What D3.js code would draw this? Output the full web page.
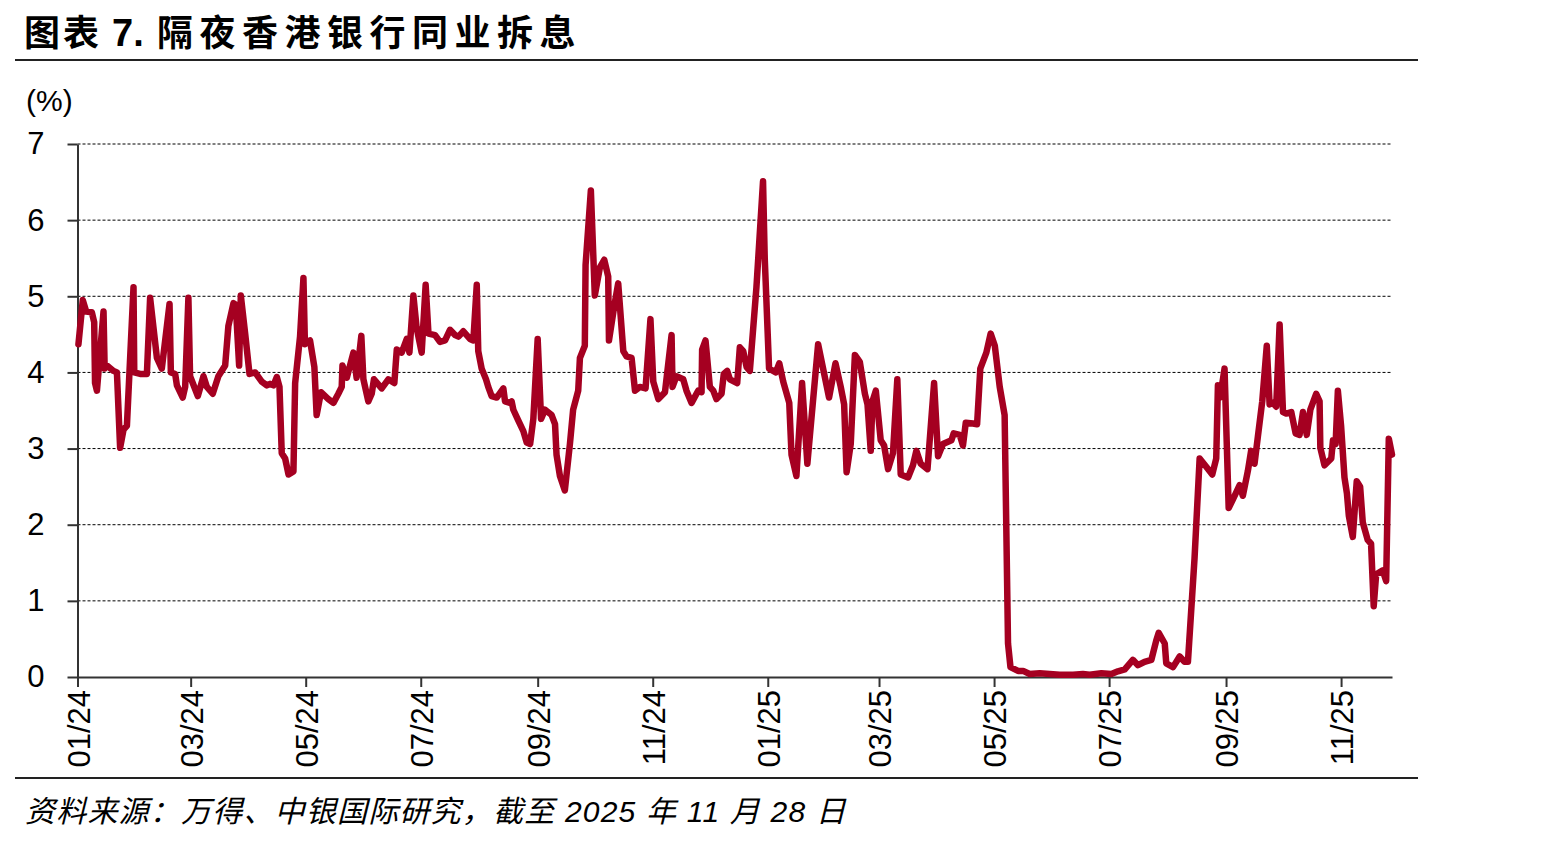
<!DOCTYPE html>
<html><head><meta charset="utf-8">
<script src="https://cdn.jsdelivr.net/npm/d3@7"></script>
<style>body{margin:0;background:#fff}</style>
</head><body>
<svg id="c" width="1542" height="842"></svg>
<script>
const titleParts = ["图表", "7.", "隔夜香港银行同业拆息"];
const unitText = "(%)";
const sourceText = "资料来源：万得、中银国际研究，截至 2025 年 11 月 28 日";
const baseDate = "2024-01-01";
const endDate = "2025-11-28";
// days since baseDate
const dayOffset = [
0.5, 2.8, 4.6, 7.6, 8.85, 9.3, 10.3, 13.8, 14.4, 15.6,
19.1, 20.9, 22.6, 24.4, 26.2, 29.7, 30.1, 33.2, 36.8, 38.5,
42.1, 44.7, 48.8, 49.5, 51.8, 52.7, 55.8, 57.1, 58.8, 59.7,
63.8, 66.8, 68.6, 71.7, 74.7, 78.3, 80.0, 82.7, 83.9, 85.7,
86.6, 88.9, 91.2, 94.2, 97.7, 100.4, 102.1, 103.9, 105.7, 107.1,
108.3, 110.1, 111.9, 114.5, 115.4, 118.0, 119.8, 120.6, 123.3, 125.6,
126.8, 129.1, 133.0, 135.7, 138.3, 140.1, 140.5, 142.8, 146.3, 148.0,
150.5, 151.6, 154.2, 156.0, 157.2, 161.3, 164.8, 168.0, 169.3, 171.9,
174.6, 176.0, 178.1, 179.8, 182.5, 184.6, 186.1, 189.6, 192.2, 194.9,
197.5, 200.2, 202.0, 204.6, 208.1, 209.9, 211.7, 212.5, 214.3, 216.6,
217.8, 219.6, 222.3, 225.8, 226.7, 229.3, 230.2, 231.1, 233.7, 236.4,
238.2, 240.0, 241.7, 244.0, 245.8, 247.9, 251.4, 253.2, 254.0, 255.8,
258.4, 261.1, 262.8, 265.5, 266.4, 269.0, 269.4, 272.2, 274.3, 277.0,
279.3, 281.4, 281.8, 284.6, 286.7, 289.4, 291.1, 293.8, 295.6, 298.2,
301.2, 303.8, 305.3, 308.0, 311.5, 315.0, 315.5, 317.6, 321.2, 322.9,
325.6, 329.1, 330.9, 331.2, 333.0, 335.3, 337.1, 338.8, 341.5, 342.7,
344.5, 345.9, 349.8, 351.2, 353.0, 354.8, 356.5, 360.0, 363.5, 364.4,
366.7, 370.3, 372.1, 374.2, 377.4, 378.6, 381.2, 384.2, 387.0, 392.7,
398.5, 401.9, 404.7, 406.5, 407.8, 410.0, 412.2, 414.8, 417.5, 418.9,
420.6, 421.5, 423.3, 425.9, 427.7, 429.8, 432.4, 434.7, 436.5, 440.4,
443.0, 444.8, 447.1, 450.7, 454.2, 456.3, 458.9, 463.4, 464.6, 467.8,
469.5, 471.0, 474.8, 477.0, 478.7, 481.9, 484.2, 486.4, 489.0, 491.6,
493.4, 494.7, 498.7, 501.4, 504.9, 510.2, 515.5, 520.8, 527.9, 533.1,
536.7, 542.9, 548.2, 551.7, 555.3, 559.6, 562.3, 565.8, 569.4, 572.0,
573.3, 576.5, 577.3, 580.9, 584.4, 587.0, 588.8, 592.3, 595.0, 598.5,
601.7, 603.8, 604.7, 605.9, 608.2, 610.4, 612.6, 616.2, 617.9, 620.6,
622.3, 624.1, 625.9, 628.2, 630.6, 632.1, 633.8, 635.6, 637.4, 639.2,
640.9, 643.6, 645.9, 648.0, 649.8, 651.8, 653.7, 656.8, 658.6, 659.0,
661.2, 664.8, 665.7, 667.1, 668.3, 670.0, 671.8, 673.1, 674.1, 676.2,
678.3, 680.1, 681.5, 684.1, 685.9, 687.3, 688.6, 692.1, 693.9, 695.3,
697.0
];
// overnight HIBOR, %
const rate = [
4.37, 4.95, 4.80, 4.79, 4.66, 3.86, 3.76, 4.80, 4.05, 4.09,
4.02, 4.00, 3.01, 3.25, 3.30, 5.12, 4.00, 3.98, 3.98, 4.98,
4.19, 4.05, 4.90, 4.00, 3.98, 3.83, 3.67, 3.81, 4.98, 3.95,
3.69, 3.95, 3.81, 3.72, 3.95, 4.09, 4.61, 4.91, 4.89, 4.09,
5.01, 4.51, 3.98, 4.00, 3.88, 3.83, 3.85, 3.83, 3.94, 3.81,
2.94, 2.87, 2.66, 2.70, 3.86, 4.47, 5.24, 4.37, 4.42, 4.07,
3.44, 3.74, 3.65, 3.60, 3.72, 3.81, 4.09, 3.93, 4.26, 3.93,
4.48, 3.91, 3.62, 3.72, 3.91, 3.79, 3.91, 3.86, 4.30, 4.26,
4.44, 4.26, 5.01, 4.59, 4.26, 5.15, 4.51, 4.49, 4.40, 4.42,
4.56, 4.49, 4.47, 4.54, 4.44, 4.42, 5.15, 4.28, 4.05, 3.91,
3.81, 3.69, 3.67, 3.79, 3.62, 3.60, 3.62, 3.51, 3.37, 3.23,
3.08, 3.06, 3.39, 4.44, 3.39, 3.51, 3.44, 3.32, 2.92, 2.64,
2.45, 3.06, 3.51, 3.76, 4.19, 4.35, 5.41, 6.39, 5.01, 5.38,
5.48, 5.26, 4.42, 4.87, 5.17, 4.28, 4.21, 4.19, 3.76, 3.81,
3.79, 4.70, 3.88, 3.65, 3.74, 4.49, 3.81, 3.95, 3.91, 3.76,
3.60, 3.76, 3.74, 4.30, 4.42, 3.81, 3.76, 3.65, 3.72, 3.98,
4.02, 3.91, 3.86, 4.33, 4.28, 4.07, 4.02, 5.12, 6.51, 5.50,
4.05, 4.00, 4.12, 3.88, 3.60, 2.92, 2.64, 3.86, 2.80, 4.37,
3.67, 4.12, 3.81, 3.58, 2.69, 3.06, 4.23, 4.14, 3.72, 3.58,
2.97, 3.62, 3.76, 3.11, 3.04, 2.73, 2.94, 3.91, 2.66, 2.62,
2.78, 2.97, 2.80, 2.73, 3.86, 2.90, 3.06, 3.11, 3.20, 3.18,
3.04, 3.34, 3.33, 3.32, 4.05, 4.26, 4.51, 4.35, 3.81, 3.44,
0.44, 0.13, 0.08, 0.08, 0.04, 0.05, 0.04, 0.03, 0.03, 0.04,
0.03, 0.05, 0.04, 0.075, 0.10, 0.225, 0.155, 0.20, 0.225, 0.48,
0.58, 0.44, 0.18, 0.13, 0.27, 0.20, 0.20, 1.56, 2.87, 2.76,
2.66, 2.87, 3.83, 3.67, 4.05, 2.22, 2.33, 2.52, 2.38, 2.71,
2.97, 2.80, 3.16, 3.62, 4.35, 3.58, 3.60, 3.55, 4.63, 3.48,
3.46, 3.48, 3.20, 3.18, 3.48, 3.18, 3.51, 3.72, 3.62, 3.01,
2.78, 2.87, 3.11, 3.06, 3.76, 3.30, 2.62, 2.41, 2.12, 1.84,
2.57, 2.50, 2.03, 1.80, 1.75, 0.93, 1.35, 1.40, 1.26, 3.13,
2.92
];
const yTicks = [0, 1, 2, 3, 4, 5, 6, 7];
const xTickDates = ["2024-01-01","2024-03-01","2024-05-01","2024-07-01","2024-09-01","2024-11-01",
                    "2025-01-01","2025-03-01","2025-05-01","2025-07-01","2025-09-01","2025-11-01"];
const xTickLabels = ["01/24","03/24","05/24","07/24","09/24","11/24","01/25","03/25","05/25","07/25","09/25","11/25"];

const parse = d3.utcParse("%Y-%m-%d");
const base = parse(baseDate);
const DAY = 86400000;
const n = Math.min(dayOffset.length, rate.length);
const data = d3.range(n).map(i => ({date: new Date(base.getTime() + dayOffset[i] * DAY), v: rate[i]}));

const svg = d3.select("#c");
const L = 77.5, R = 1392, T = 144, B = 677;
const x = d3.scaleUtc().domain([base, parse(endDate)]).range([L, R]);
const y = d3.scaleLinear().domain([0, 7]).range([B, T]);
const FONT = "'Liberation Sans', Arial, 'Noto Sans CJK SC', sans-serif";

// title
const tt = svg.append("text").attr("y", 46)
  .attr("font-family", FONT).attr("font-weight", "bold").attr("font-size", 36).attr("fill", "#000");
tt.append("tspan").attr("x", 24).attr("letter-spacing", "3px").text(titleParts[0]);
tt.append("tspan").attr("x", 112).attr("font-size", 38).text(titleParts[1]);
tt.append("tspan").attr("x", 157).attr("letter-spacing", "6.5px").text(titleParts[2]);
svg.append("line").attr("x1", 15).attr("x2", 1418).attr("y1", 60).attr("y2", 60)
  .attr("stroke", "#222").attr("stroke-width", 2);

// unit
svg.append("text").attr("x", 26).attr("y", 111)
  .attr("font-family", FONT).attr("font-size", 30).attr("fill", "#000").text(unitText);

// gridlines
svg.append("g").selectAll("line").data(yTicks.filter(t => t > 0)).join("line")
  .attr("x1", L).attr("x2", R).attr("y1", d => y(d)).attr("y2", d => y(d))
  .attr("stroke", "#000").attr("stroke-width", 1).attr("stroke-dasharray", "3,2");

// y axis
const ya = svg.append("g").attr("transform", `translate(${L},0)`)
  .call(d3.axisLeft(y).tickValues(yTicks).tickFormat(d3.format("d")).tickSize(10).tickSizeOuter(0).tickPadding(23));
ya.select(".domain").attr("stroke", "#333").attr("stroke-width", 2);
ya.selectAll(".tick line").attr("stroke", "#333").attr("stroke-width", 2);
ya.selectAll("text").attr("font-family", FONT).attr("font-size", 31).attr("fill", "#000");

// x axis
const xa = svg.append("g").attr("transform", `translate(0,${B})`)
  .call(d3.axisBottom(x).tickValues(xTickDates.map(parse)).tickFormat((d, i) => xTickLabels[i]).tickSize(10).tickSizeOuter(0));
xa.select(".domain").attr("stroke", "#333").attr("stroke-width", 2);
xa.selectAll(".tick line").attr("stroke", "#333").attr("stroke-width", 2);
xa.selectAll("text").attr("font-family", FONT).attr("font-size", 31).attr("fill", "#000")
  .attr("transform", "rotate(-90)").attr("text-anchor", "end")
  .attr("x", -13).attr("y", 0).attr("dy", "0.38em");

// line
svg.append("path").datum(data)
  .attr("fill", "none").attr("stroke", "#A50021").attr("stroke-width", 6.5)
  .attr("stroke-linejoin", "round").attr("stroke-linecap", "round")
  .attr("d", d3.line().x(d => x(d.date)).y(d => y(d.v)));

// bottom rule and source
svg.append("line").attr("x1", 15).attr("x2", 1418).attr("y1", 778).attr("y2", 778)
  .attr("stroke", "#222").attr("stroke-width", 2);
svg.append("text").attr("x", 25).attr("y", 822)
  .attr("font-family", FONT).attr("font-style", "italic").attr("font-size", 30)
  .attr("letter-spacing", "1.2px").attr("fill", "#000").text(sourceText);
</script>
</body></html>
